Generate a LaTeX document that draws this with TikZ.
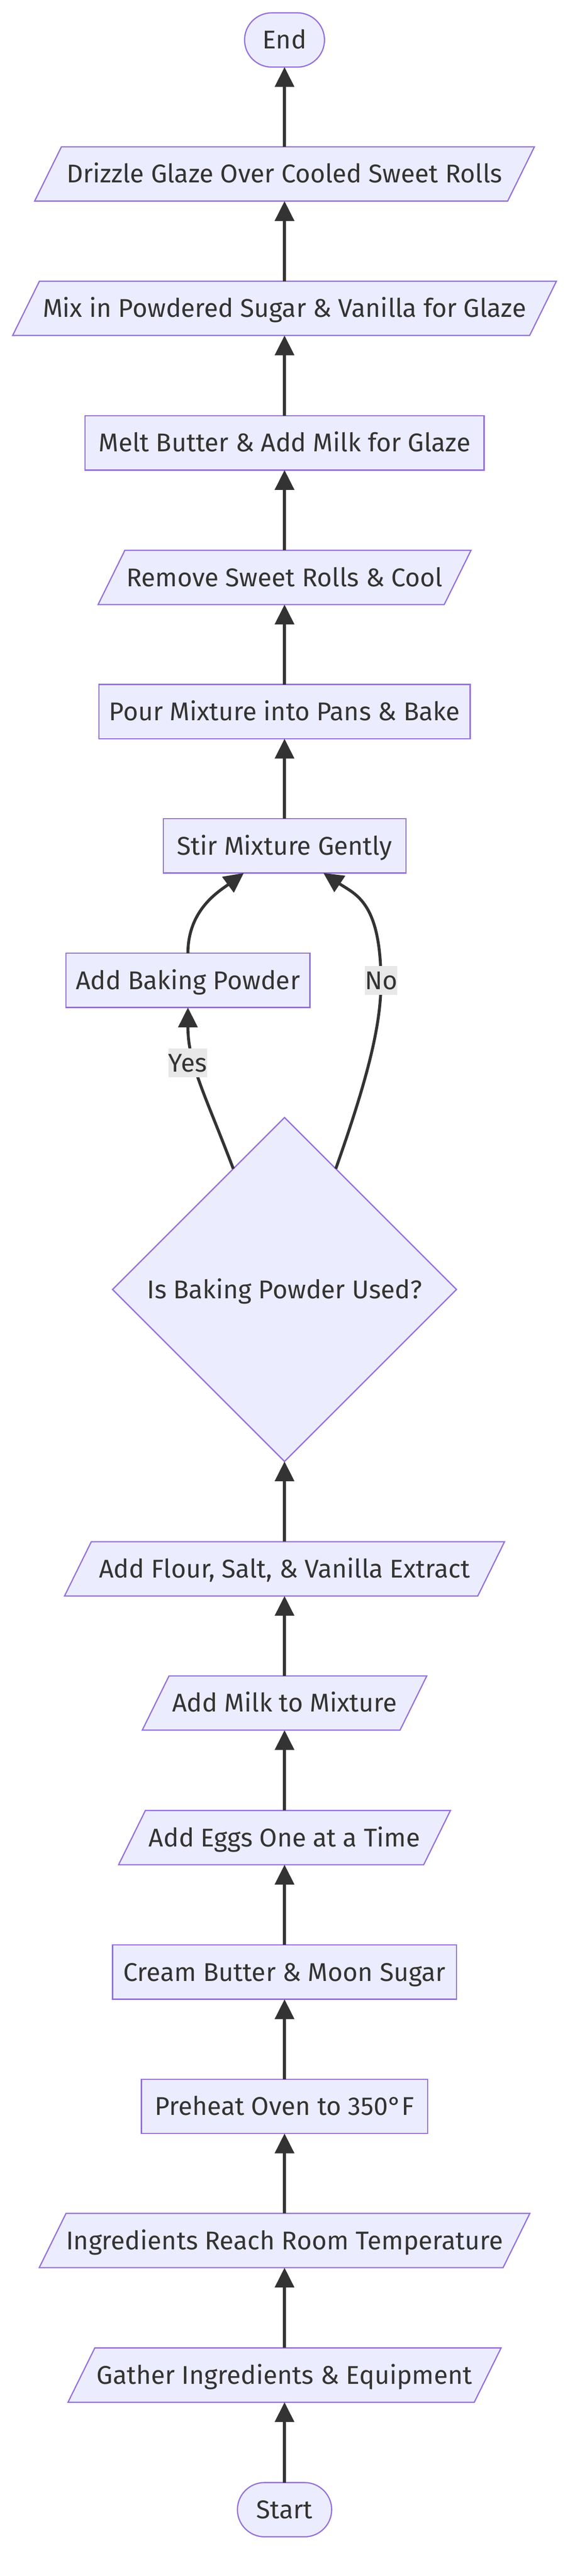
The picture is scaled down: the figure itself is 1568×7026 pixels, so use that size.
\documentclass[tikz,border=0pt]{standalone}
\usepackage{fontspec}
\setmainfont{Fira Sans}
\usetikzlibrary{arrows.meta,shapes.geometric}
\definecolor{nfill}{HTML}{ECECFF}
\definecolor{nline}{HTML}{9370DB}
\definecolor{ink}{HTML}{333333}
\definecolor{lblbg}{HTML}{E8E8E8}
% parallelogram: name, y-centre, width, text
\newcommand\pgram[4]{%
  \filldraw[pgshape] ({776-#3/2+36.5},{#2-74}) -- ({776+#3/2+36.5},{#2-74})
     -- ({776+#3/2-36.5},{#2+74}) -- ({776-#3/2-36.5},{#2+74}) -- cycle;
  \node[pgtext, minimum width=#3pt] (#1) at (776,#2) {#4};
}
\begin{document}
\begin{tikzpicture}[x=1pt,y=-1pt,
  every node/.style={outer sep=0pt},
  ntext/.style={text=ink, font=\fontsize{70}{84}\selectfont, text height=48.5pt, text depth=0pt, inner sep=0pt, align=center},
  box/.style={ntext, rectangle, draw=nline, fill=nfill, line width=3.3pt, minimum height=148pt},
  term/.style={box, rounded corners=74pt},
  pgtext/.style={ntext, rectangle, minimum height=148pt},
  pgshape/.style={draw=nline, fill=nfill, line width=3.3pt},
  decision/.style={ntext, diamond, aspect=1, draw=nline, fill=nfill, line width=3.3pt, minimum width=938pt, minimum height=938pt},
  flow/.style={draw=ink, line width=8pt, -{Triangle[length=54pt,width=52pt]}},
  lbl/.style={ntext, fill=lblbg, minimum height=79pt}
]
\fill[white] (0,0) rectangle (1568,7026);
\useasboundingbox (0,0) rectangle (1568,7026);

% nodes
\node[term, minimum width=218pt] (end) at (776,109) {End};
\pgram{drizzle}{474.5}{1290}{Drizzle Glaze Over Cooled Sweet Rolls}
\pgram{mix}{841}{1410}{Mix in Powdered Sugar \& Vanilla for Glaze}
\node[box, minimum width=1088pt] (melt) at (776,1208) {Melt Butter \& Add Milk for Glaze};
\pgram{remove}{1575}{944}{Remove Sweet Rolls \& Cool}
\node[box, minimum width=1012pt] (pour) at (776,1941) {Pour Mixture into Pans \& Bake};
\node[box, minimum width=662pt] (stir) at (776,2307) {Stir Mixture Gently};
\node[box, minimum width=665pt] (bp) at (512.5,2674) {Add Baking Powder};
\node[decision] (dia) at (776,3517) {Is Baking Powder Used?};
\pgram{flour}{4279}{1127}{Add Flour, Salt, \& Vanilla Extract}
\pgram{milk}{4645}{703}{Add Milk to Mixture}
\pgram{eggs}{5012}{832}{Add Eggs One at a Time}
\node[box, minimum width=938pt] (cream) at (776,5379) {Cream Butter \& Moon Sugar};
\node[box, minimum width=781pt] (preheat) at (776,5745) {Preheat Oven to 350°F};
\pgram{ingr}{6111}{1265}{Ingredients Reach Room Temperature}
\pgram{gather}{6478}{1108}{Gather Ingredients \& Equipment}
\node[term, minimum width=257pt] (start) at (776,6845) {Start};

% straight connectors
\draw[flow] (start.north) -- (gather.south);
\draw[flow] (gather.north) -- (ingr.south);
\draw[flow] (ingr.north) -- (preheat.south);
\draw[flow] (preheat.north) -- (cream.south);
\draw[flow] (cream.north) -- (eggs.south);
\draw[flow] (eggs.north) -- (milk.south);
\draw[flow] (milk.north) -- (flour.south);
\draw[flow] (flour.north) -- (dia.south);
\draw[flow] (stir.north) -- (pour.south);
\draw[flow] (pour.north) -- (remove.south);
\draw[flow] (remove.north) -- (melt.south);
\draw[flow] (melt.north) -- (mix.south);
\draw[flow] (mix.north) -- (drizzle.south);
\draw[flow] (drizzle.north) -- (end.south);

% curved connectors
\coordinate (nomid) at (1039,2680);
\draw[flow] (dia.113) .. controls +(-78,-205) and +(0,152) .. (bp.south);
\draw[flow] (bp.north) .. controls +(0,-120) and +(-66,49) .. ([xshift=-111pt]stir.south);
\draw[draw=ink, line width=8pt] (dia.67) .. controls +(84,-238) and +(0,120) .. (nomid);
\draw[flow] (nomid) .. controls +(0,-220) and +(88,59) .. ([xshift=106pt]stir.south);

% edge labels
\node[lbl] (yes) at (512,2899) {Yes};
\node[lbl] (no) at (1039.5,2674) {No};
\end{tikzpicture}
\end{document}
